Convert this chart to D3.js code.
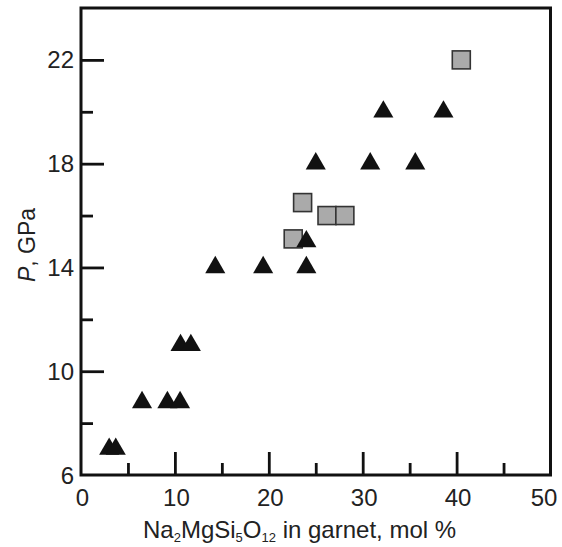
<!DOCTYPE html>
<html>
<head>
<meta charset="utf-8">
<script src="https://cdn.jsdelivr.net/npm/d3@7"></script>
<style>
  body { margin: 0; background: #fff; }
  text { font-family: "Liberation Sans", Arial, sans-serif; fill: #222; }
</style>
</head>
<body>
<div id="chart"></div>
<script>
const W = 562
const H = 547

const MARGIN = {
    top: 8,
    bot: 72,
    left: 81,
    right: 12
}

// triangles
const triX = [3.0, 3.7, 6.5, 9.2, 10.55, 10.6, 11.7, 14.3, 19.4, 24.0, 24.0, 25.0, 30.8, 35.6, 32.2, 38.6]
const triP = [7.0, 7.0, 8.8, 8.8, 8.8, 11.0, 11.0, 14.0, 14.0, 14.0, 15.0, 18.0, 18.0, 18.0, 20.0, 20.0]

// squares
const sqX = [22.6, 23.6, 26.2, 28.1, 40.5]
const sqP = [15.1, 16.5, 16.0, 16.0, 22.0]

const xMajor = [10, 20, 30, 40]
const xMinor = [5, 15, 25, 35, 45]
const xLabels = [0, 10, 20, 30, 40, 50]
const yMajor = [10, 14, 18, 22]
const yMinor = [8, 12, 16, 20]
const yLabels = [6, 10, 14, 18, 22]

const svg = d3.select("#chart")
    .append("svg")
    .attr("width", W)
    .attr("height", H)

const x = d3.scaleLinear()
    .domain([0, 50])
    .range([MARGIN.left, W - MARGIN.right + 0.5])

const y = d3.scaleLinear()
    .domain([6, 24])
    .range([H - MARGIN.bot, MARGIN.top])

const bottom = H - MARGIN.bot

// inward ticks: axes with negative tick size
function tickAxis(axisFn, scale, vals, len) {
    return axisFn(scale).tickValues(vals).tickSize(-len).tickFormat("")
}

svg.append("g")
    .attr("transform", `translate(0, ${bottom})`)
    .call(tickAxis(d3.axisBottom, x, xMajor, 23))
    .call(g => g.select(".domain").remove())
    .selectAll("line").attr("stroke", "#111").attr("stroke-width", 2.8)

svg.append("g")
    .attr("transform", `translate(0, ${bottom})`)
    .call(tickAxis(d3.axisBottom, x, xMinor, 12))
    .call(g => g.select(".domain").remove())
    .selectAll("line").attr("stroke", "#111").attr("stroke-width", 2.8)

svg.append("g")
    .attr("transform", `translate(${MARGIN.left}, 0)`)
    .call(tickAxis(d3.axisLeft, y, yMajor, 23))
    .call(g => g.select(".domain").remove())
    .selectAll("line").attr("stroke", "#111").attr("stroke-width", 2.8)

svg.append("g")
    .attr("transform", `translate(${MARGIN.left}, 0)`)
    .call(tickAxis(d3.axisLeft, y, yMinor, 12))
    .call(g => g.select(".domain").remove())
    .selectAll("line").attr("stroke", "#111").attr("stroke-width", 2.8)

// frame
svg.append("rect")
    .attr("x", x(0))
    .attr("y", y(24))
    .attr("width", x(50) - x(0))
    .attr("height", y(6) - y(24))
    .attr("fill", "none")
    .attr("stroke", "#111")
    .attr("stroke-width", 3)

// tick labels (last one pulled in so it fits)
svg.append("g").selectAll("text")
    .data(xLabels)
    .join("text")
    .attr("x", d => Math.min(x(d) + 1.5, W - 18))
    .attr("y", bottom + 31)
    .attr("text-anchor", "middle")
    .attr("font-size", 24)
    .text(d => d)

svg.append("g").selectAll("text")
    .data(yLabels)
    .join("text")
    .attr("x", MARGIN.left - 7)
    .attr("y", d => y(d) + 8.5)
    .attr("text-anchor", "end")
    .attr("font-size", 24)
    .text(d => d)

// axis titles
const xt = svg.append("text")
    .attr("x", 143)
    .attr("y", 538)
    .attr("font-size", 24)
xt.append("tspan").text("Na")
xt.append("tspan").attr("font-size", 13).attr("dy", 4).text("2")
xt.append("tspan").attr("dy", -4).text("MgSi")
xt.append("tspan").attr("font-size", 13).attr("dy", 4).text("5")
xt.append("tspan").attr("dy", -4).text("O")
xt.append("tspan").attr("font-size", 13).attr("dy", 4).text("12")
xt.append("tspan").attr("dy", -4).text(" in garnet, mol %")

const yt = svg.append("text")
    .attr("transform", `translate(35, 245) rotate(-90)`)
    .attr("text-anchor", "middle")
    .attr("font-size", 23)
yt.append("tspan").attr("font-style", "italic").text("P")
yt.append("tspan").text(", GPa")

// squares
const sqSide = 18
svg.append("g").selectAll("rect")
    .data(d3.range(sqX.length))
    .join("rect")
    .attr("x", i => x(sqX[i]) - sqSide / 2)
    .attr("y", i => y(sqP[i]) - sqSide / 2)
    .attr("width", sqSide)
    .attr("height", sqSide)
    .attr("fill", "#aaaaaa")
    .attr("stroke", "#333")
    .attr("stroke-width", 1.6)

// triangles
const tri = d3.symbol().type(d3.symbolTriangle).size(175)
svg.append("g").selectAll("path")
    .data(d3.range(triX.length))
    .join("path")
    .attr("d", tri)
    .attr("transform", i => `translate(${x(triX[i])}, ${y(triP[i])})`)
    .attr("fill", "#111")
</script>
</body>
</html>
